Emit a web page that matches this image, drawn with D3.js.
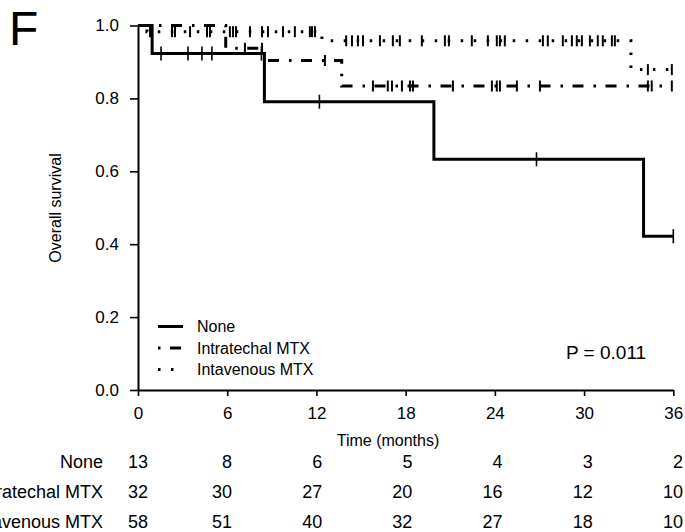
<!DOCTYPE html>
<html><head><meta charset="utf-8">
<script src="https://cdn.jsdelivr.net/npm/d3@7/dist/d3.min.js"></script>
<style>
body{margin:0;background:#fff}
svg{display:block}
text{font-family:"Liberation Sans",Arial,Helvetica,sans-serif;fill:#000}
</style>
</head><body>
<svg id="chart" width="685" height="532"></svg>
<script>
// Kaplan–Meier steps per group: [time (months), survival from that time on]
const noneSteps = [[0,1],[0.95,0.923],[8.5,0.791],[19.9,0.633],[34.0,0.422]];
const ithSteps  = [[0,1],[5.9,0.9375],[8.5,0.904],[13.7,0.834]];
const ivSteps   = [[0,1],[0.6,0.983],[12.37,0.958],[33.15,0.879]];
// last follow-up time of each curve
const followUpEnd = [36, 35.9, 35.9];
// censored observations (months)
const noneCensored = [1.55,3.36,4.3,4.97,8.3,12.2,26.8,36];
const ithCensored  = [7.19,8.34,12.57,15.8,16.8,17.08,17.75,18.29,18.49,21.18,23.8,24.13,24.34,25.48,27.03,34.29,34.55,35.9];
const ivCensored   = [0.81,2.29,2.49,3.5,4.64,4.84,
                      6.18,6.39,6.59,7.53,8.34,8.74,9.75,10.55,11.56,11.7,11.9,
                      14.0,14.39,14.79,15.13,16.27,17.14,17.61,
                      19.09,20.64,20.91,22.45,23.53,
                      24.13,24.34,24.67,27.23,27.56,28.57,29.18,29.51,29.85,
                      30.39,30.92,31.26,31.87,32.07,34.29,35.9];
const groupNames = ["None","Intratechal MTX","Intavenous MTX"];
// numbers at risk
const riskTimes = [0,6,12,18,24,30,36];
const riskNone = [13,8,6,5,4,3,2];
const riskIth  = [32,30,27,20,16,12,10];
const riskIv   = [58,51,40,32,27,18,10];
const xTickValues = [0,6,12,18,24,30,36];
const yTickValues = [0,0.2,0.4,0.6,0.8,1.0];
const pText = "P = 0.011";

const svg = d3.select("#chart");
const x = d3.scaleLinear().domain([0,36]).range([138,673.3]);
const y = d3.scaleLinear().domain([0,1]).range([390,25.5]);

const styles = [
  {dash:null, width:3, tick:7, tickW:1.6},
  {dash:"11,10,2.5,9.5", width:3, tick:5.5, tickW:2},
  {dash:"2.5,10.5", width:3, tick:5.5, tickW:2}
];
const groups = [
  {steps:noneSteps, censored:noneCensored},
  {steps:ithSteps, censored:ithCensored},
  {steps:ivSteps, censored:ivCensored}
];

function survAt(steps, t){
  let s = steps[0][1];
  for (const [tt, v] of steps) if (tt <= t) s = v;
  return s;
}

// panel letter
svg.append("text").attr("x",9).attr("y",45).attr("font-size",48).text("F");

// axes
const yAxis = d3.axisLeft(y).tickValues(yTickValues).tickFormat(d3.format(".1f"))
  .tickSize(8).tickSizeOuter(0).tickPadding(11);
const gy = svg.append("g").attr("transform","translate(138,0)").call(yAxis);
const xAxis = d3.axisBottom(x).tickValues(xTickValues).tickFormat(d3.format("d"))
  .tickSize(6).tickSizeOuter(0).tickPadding(11);
const gx = svg.append("g").attr("transform","translate(0,390)").call(xAxis);
[gx, gy].forEach(g => {
  g.selectAll("path.domain").attr("stroke","#000").attr("stroke-width",2);
  g.selectAll(".tick line").attr("stroke","#000").attr("stroke-width",1.6);
  g.selectAll(".tick text").attr("font-size",17).attr("font-family",null).attr("fill","#000");
});

svg.append("text").attr("x",388).attr("y",446).attr("text-anchor","middle")
  .attr("font-size",16).text("Time (months)");
svg.append("text").attr("transform","translate(61,208) rotate(-90)")
  .attr("text-anchor","middle").attr("font-size",16).text("Overall survival");

// survival curves
const line = d3.line().x(d => x(d[0])).y(d => y(d[1])).curve(d3.curveStepAfter);
groups.forEach((g, i) => {
  const pts = g.steps.concat([[followUpEnd[i], g.steps[g.steps.length-1][1]]]);
  const st = styles[i];
  svg.append("path").datum(pts).attr("d", line)
    .attr("fill","none").attr("stroke","#000").attr("stroke-width",st.width)
    .attr("stroke-dasharray", st.dash).attr("stroke-linecap","butt");
  svg.append("g").selectAll("line").data(g.censored).join("line")
    .attr("x1", d => x(d)).attr("x2", d => x(d))
    .attr("y1", d => y(survAt(g.steps, d)) - st.tick)
    .attr("y2", d => y(survAt(g.steps, d)) + st.tick)
    .attr("stroke","#000").attr("stroke-width",st.tickW);
});

// legend
const legY = [326.5, 348, 369.5];
const legOffset = [0, 21, 0];
groupNames.forEach((name, i) => {
  const st = styles[i];
  svg.append("line").attr("x1",158).attr("x2",183).attr("y1",legY[i]).attr("y2",legY[i])
    .attr("stroke","#000").attr("stroke-width",st.width)
    .attr("stroke-dasharray",st.dash).attr("stroke-dashoffset",legOffset[i]);
  svg.append("text").attr("x",197).attr("y",legY[i]+5.7).attr("font-size",16).text(name);
});

svg.append("text").attr("x",566).attr("y",359).attr("font-size",19).text(pText);

// numbers at risk table
const tableX = d3.scaleLinear().domain([6,36]).range([232,683]);
const colX = t => t === 0 ? 148 : tableX(t);
const riskRows = [riskNone, riskIth, riskIv];
const rowY = [467.5, 498, 527.5];
riskRows.forEach((row, r) => {
  svg.append("text").attr("x",103).attr("y",rowY[r]).attr("text-anchor","end")
    .attr("font-size",18).text(groupNames[r]);
  svg.append("g").selectAll("text").data(row).join("text")
    .attr("x",(d,k) => colX(riskTimes[k])).attr("y",rowY[r])
    .attr("text-anchor","end").attr("font-size",18).text(d => d);
});
</script>
</body></html>
